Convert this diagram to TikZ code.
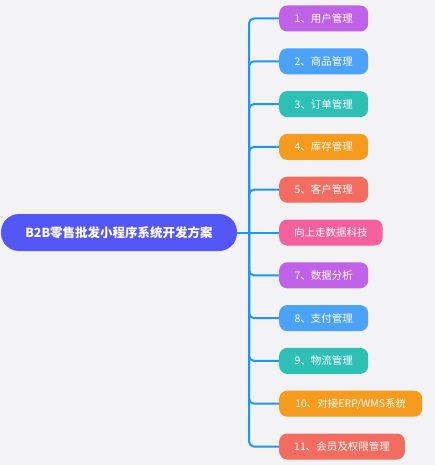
\documentclass[tikz,border=0pt]{standalone}
\usepackage{fontspec}
\setmainfont{Noto Sans CJK SC}
\usepackage{xcolor}
\definecolor{bgGray}{HTML}{F3F3F6}
\definecolor{rootBlue}{HTML}{5457F5}
\definecolor{linkBlue}{HTML}{1E96F2}
\definecolor{cPurple}{HTML}{C062E8}
\definecolor{cBlue}{HTML}{4AA3F9}
\definecolor{cTeal}{HTML}{2DC1B6}
\definecolor{cOrange}{HTML}{F79B1C}
\definecolor{cSalmon}{HTML}{F46B5F}
\definecolor{cPink}{HTML}{F3609B}

\begin{document}
\begin{tikzpicture}[
  x=1pt,y=-1pt,
  root/.style={rounded corners=18pt,fill=rootBlue,text=white,
    font=\fontsize{12.5}{15}\selectfont\bfseries,
    minimum width=236pt,minimum height=37pt,inner sep=0pt},
  topic/.style={rounded corners=8pt,text=white,anchor=west,
    font=\fontsize{10.5}{12}\selectfont,
    minimum width=89pt,minimum height=26pt,inner xsep=15pt,inner ysep=0pt},
  link/.style={line width=2pt,linkBlue,rounded corners=5pt}
]

% background and page size
\fill[bgGray] (0,0) rectangle (435,465);
\useasboundingbox (0,0) rectangle (435,465);

%%%%%%%%%%%%%%%%%%%%%%%%%%%%%%%%%%%%%%%%%%%%%%%%%%%%
% root
%%%%%%%%%%%%%%%%%%%%%%%%%%%%%%%%%%%%%%%%%%%%%%%%%%%%
\node[root] (root) at (119,232.5) {B2B零售批发小程序系统开发方案};
\coordinate (hub) at (249,232.5);

%%%%%%%%%%%%%%%%%%%%%%%%%%%%%%%%%%%%%%%%%%%%%%%%%%%%
% topics
%%%%%%%%%%%%%%%%%%%%%%%%%%%%%%%%%%%%%%%%%%%%%%%%%%%%
\node[topic,fill=cPurple] (t1)  at (279,18.5)  {1、用户管理};
\node[topic,fill=cBlue]   (t2)  at (279,61.3)  {2、商品管理};
\node[topic,fill=cTeal]   (t3)  at (279,104.1) {3、订单管理};
\node[topic,fill=cOrange] (t4)  at (279,146.9) {4、库存管理};
\node[topic,fill=cSalmon] (t5)  at (279,189.7) {5、客户管理};
\node[topic,fill=cPink,minimum width=102pt] (t6) at (279,232.5) {向上走数据科技};
\node[topic,fill=cPurple] (t7)  at (279,275.3) {7、数据分析};
\node[topic,fill=cBlue]   (t8)  at (279,318.1) {8、支付管理};
\node[topic,fill=cTeal]   (t9)  at (279,360.9) {9、物流管理};
\node[topic,fill=cOrange,minimum width=143pt] (t10) at (279,403.7) {10、对接ERP/WMS系统};
\node[topic,fill=cSalmon,minimum width=125pt] (t11) at (279,446.5) {11、会员及权限管理};

%%%%%%%%%%%%%%%%%%%%%%%%%%%%%%%%%%%%%%%%%%%%%%%%%%%%
% links
%%%%%%%%%%%%%%%%%%%%%%%%%%%%%%%%%%%%%%%%%%%%%%%%%%%%
\draw[link] (root.east) -- (t6.west);
\draw[link] (hub) |- (t1.west);
\draw[link] (hub) |- (t2.west);
\draw[link] (hub) |- (t3.west);
\draw[link] (hub) |- (t4.west);
\draw[link] (hub) |- (t5.west);
\draw[link] (hub) |- (t7.west);
\draw[link] (hub) |- (t8.west);
\draw[link] (hub) |- (t9.west);
\draw[link] (hub) |- (t10.west);
\draw[link] (hub) |- (t11.west);

\end{tikzpicture}
\end{document}
